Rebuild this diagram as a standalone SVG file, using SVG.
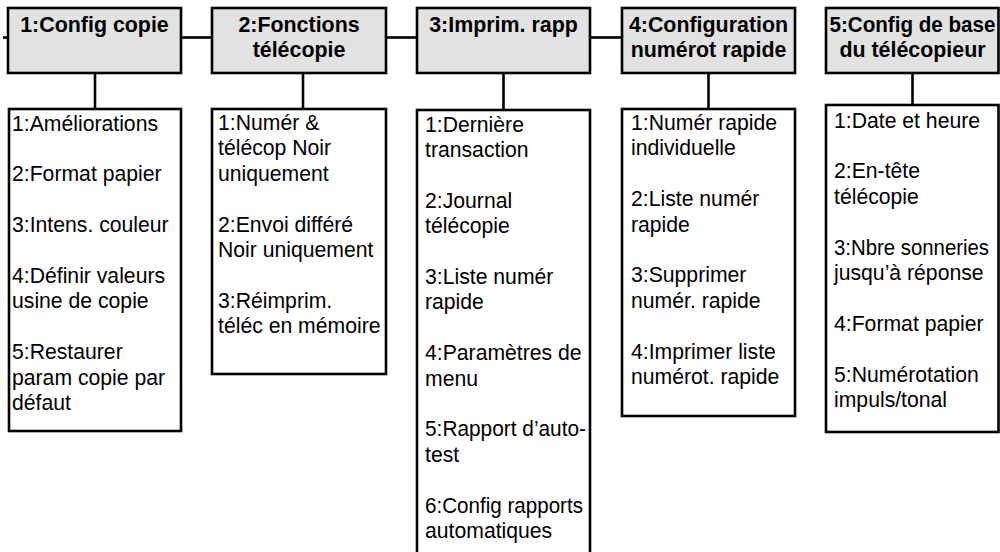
<svg xmlns="http://www.w3.org/2000/svg" width="1000" height="552" viewBox="0 0 1000 552">
<style>
.hdr{fill:#e2e2e2;stroke:#000;stroke-width:2.6}
.box{fill:#fff;stroke:#000;stroke-width:2.6}
.ln{stroke:#000;stroke-width:2.6;fill:none}
.ht{font-family:"Liberation Sans",Arial,sans-serif;font-weight:bold;font-size:21.4px;fill:#000;text-anchor:middle}
.bt{font-family:"Liberation Sans",Arial,sans-serif;font-size:21.2px;fill:#000}
</style>
<rect width="1000" height="552" fill="#fff"/>
<g id="connectors">
<line class="ln" x1="3" y1="37.5" x2="8" y2="37.5"/>
<line class="ln" x1="181" y1="37.5" x2="212" y2="37.5"/>
<line class="ln" x1="386" y1="37.5" x2="417" y2="37.5"/>
<line class="ln" x1="590" y1="37.5" x2="622" y2="37.5"/>
<line class="ln" x1="95" y1="73" x2="95" y2="109"/>
<line class="ln" x1="303" y1="73" x2="303" y2="109"/>
<line class="ln" x1="503.5" y1="73" x2="503.5" y2="110"/>
<line class="ln" x1="708.5" y1="73" x2="708.5" y2="109"/>
<line class="ln" x1="912.5" y1="73" x2="912.5" y2="105"/>
</g>
<g id="h1">
<rect class="hdr" x="8" y="8" width="173" height="65"/>
<text class="ht" x="94.5" y="32">1:Config copie</text>
</g>
<g id="h2">
<rect class="hdr" x="212" y="8" width="174" height="65"/>
<text class="ht" x="299" y="32">2:Fonctions</text>
<text class="ht" x="299" y="57">télécopie</text>
</g>
<g id="h3">
<rect class="hdr" x="417" y="8" width="173" height="65"/>
<text class="ht" x="503.5" y="32">3:Imprim. rapp</text>
</g>
<g id="h4">
<rect class="hdr" x="622" y="8" width="173" height="65"/>
<text class="ht" x="708.5" y="32">4:Configuration</text>
<text class="ht" x="708.5" y="57">numérot rapide</text>
</g>
<g id="h5">
<rect class="hdr" x="826" y="8" width="172.5" height="65"/>
<text class="ht" x="912.5" y="32" textLength="166" lengthAdjust="spacingAndGlyphs">5:Config de base</text>
<text class="ht" x="912.5" y="57">du télécopieur</text>
</g>
<g id="c1">
<rect class="box" x="9" y="109" width="172" height="322"/>
<text class="bt" x="12" y="130.5">1:Améliorations</text>
<text class="bt" x="12" y="181.3">2:Format papier</text>
<text class="bt" x="12" y="232.1">3:Intens. couleur</text>
<text class="bt" x="12" y="282.9">4:Définir valeurs</text>
<text class="bt" x="12" y="308.3">usine de copie</text>
<text class="bt" x="12" y="359.1">5:Restaurer</text>
<text class="bt" x="12" y="384.5">param copie par</text>
<text class="bt" x="12" y="409.9">défaut</text>
</g>
<g id="c2">
<rect class="box" x="212" y="109" width="174" height="265"/>
<text class="bt" x="218" y="130">1:Numér &amp;</text>
<text class="bt" x="218" y="155.4">télécop Noir</text>
<text class="bt" x="218" y="180.8">uniquement</text>
<text class="bt" x="218" y="231.6">2:Envoi différé</text>
<text class="bt" x="218" y="257">Noir uniquement</text>
<text class="bt" x="218" y="307.8">3:Réimprim.</text>
<text class="bt" x="218" y="333.2">téléc en mémoire</text>
</g>
<g id="c3">
<rect class="box" x="417" y="110" width="173" height="460"/>
<text class="bt" x="425" y="131.5">1:Dernière</text>
<text class="bt" x="425" y="156.9">transaction</text>
<text class="bt" x="425" y="207.7">2:Journal</text>
<text class="bt" x="425" y="233.1">télécopie</text>
<text class="bt" x="425" y="283.9">3:Liste numér</text>
<text class="bt" x="425" y="309.3">rapide</text>
<text class="bt" x="425" y="360.1">4:Paramètres de</text>
<text class="bt" x="425" y="385.5">menu</text>
<text class="bt" x="425" y="436.3" textLength="161" lengthAdjust="spacingAndGlyphs">5:Rapport d’auto-</text>
<text class="bt" x="425" y="461.7">test</text>
<text class="bt" x="425" y="512.5" textLength="158" lengthAdjust="spacingAndGlyphs">6:Config rapports</text>
<text class="bt" x="425" y="537.9">automatiques</text>
</g>
<g id="c4">
<rect class="box" x="622" y="109" width="173" height="307"/>
<text class="bt" x="631" y="130">1:Numér rapide</text>
<text class="bt" x="631" y="155.4">individuelle</text>
<text class="bt" x="631" y="206.2">2:Liste numér</text>
<text class="bt" x="631" y="231.6">rapide</text>
<text class="bt" x="631" y="282.4">3:Supprimer</text>
<text class="bt" x="631" y="307.8">numér. rapide</text>
<text class="bt" x="631" y="358.6">4:Imprimer liste</text>
<text class="bt" x="631" y="384">numérot. rapide</text>
</g>
<g id="c5">
<rect class="box" x="826" y="105" width="172.5" height="327"/>
<text class="bt" x="834" y="127.5">1:Date et heure</text>
<text class="bt" x="834" y="178.3">2:En-tête</text>
<text class="bt" x="834" y="203.7">télécopie</text>
<text class="bt" x="834" y="254.5" textLength="155" lengthAdjust="spacingAndGlyphs">3:Nbre sonneries</text>
<text class="bt" x="834" y="279.9">jusqu’à réponse</text>
<text class="bt" x="834" y="330.7">4:Format papier</text>
<text class="bt" x="834" y="381.5">5:Numérotation</text>
<text class="bt" x="834" y="406.9">impuls/tonal</text>
</g>
</svg>
